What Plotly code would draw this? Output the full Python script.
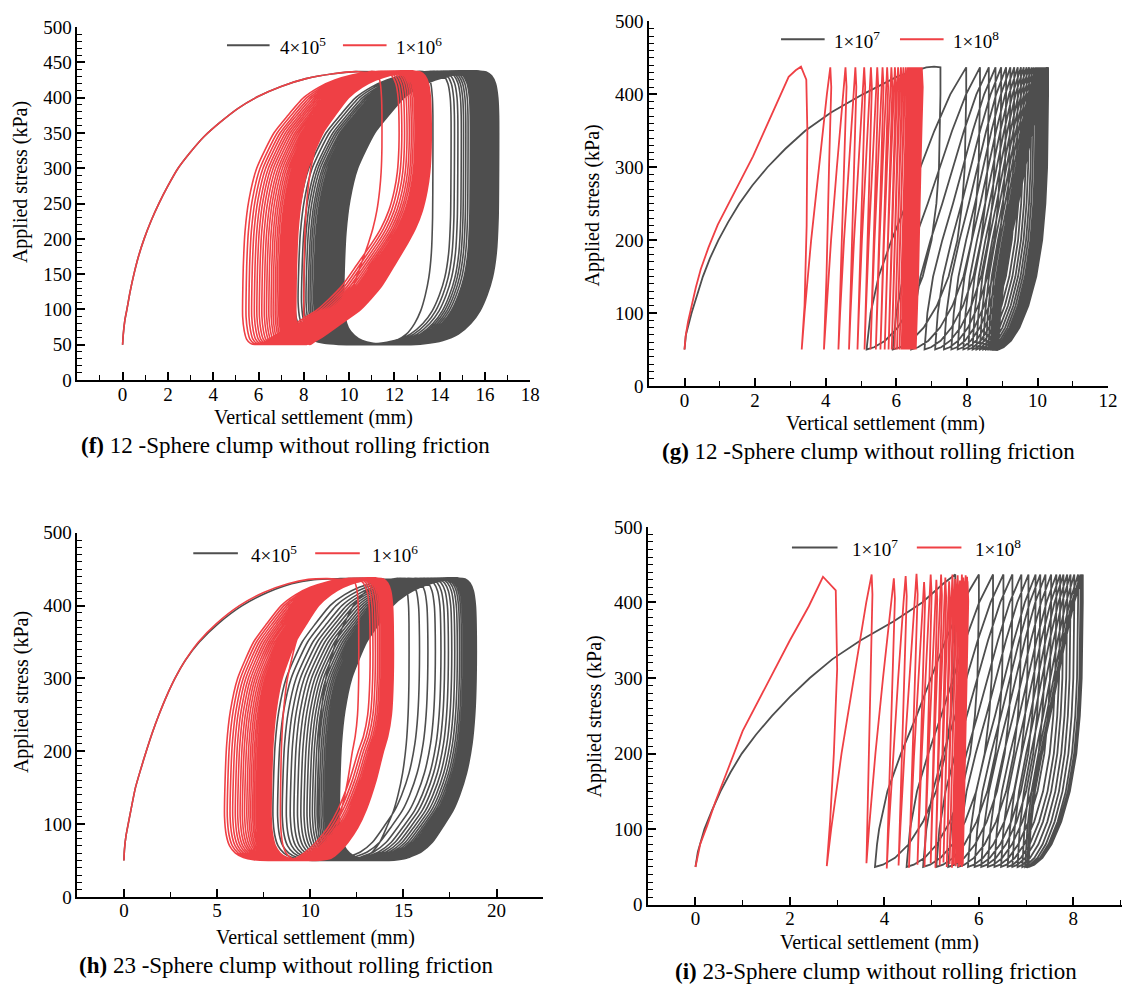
import plotly.graph_objects as go

# ---------------- figure constants ----------------
FIG_W, FIG_H = 1132, 996
GRAY = "#4E4E4E"
RED = "#EF4045"
FONT = "Liberation Serif, Times New Roman, serif"
P_MAX, P_MIN = 437, 50          # cyclic stress limits (kPa)

# ---------------- text ----------------
LEGEND_F = ["4×10<sup>5</sup>", "1×10<sup>6</sup>"]
LEGEND_G = ["1×10<sup>7</sup>", "1×10<sup>8</sup>"]
LEGEND_H = ["4×10<sup>5</sup>", "1×10<sup>6</sup>"]
LEGEND_I = ["1×10<sup>7</sup>", "1×10<sup>8</sup>"]
CAPTION_F = "<b>(f)</b> 12 -Sphere clump without rolling friction"
CAPTION_G = "<b>(g)</b> 12 -Sphere clump without rolling friction"
CAPTION_H = "<b>(h)</b> 23 -Sphere clump without rolling friction"
CAPTION_I = "<b>(i)</b> 23-Sphere clump without rolling friction"
X_TITLE = "Vertical settlement (mm)"
Y_TITLE = "Applied stress (kPa)"

F_XTICKS = [0, 2, 4, 6, 8, 10, 12, 14, 16, 18]
G_XTICKS = [0, 2, 4, 6, 8, 10, 12]
H_XTICKS = [0, 5, 10, 15, 20]
I_XTICKS = [0, 2, 4, 6, 8]
F_YTICKS = [0, 50, 100, 150, 200, 250, 300, 350, 400, 450, 500]
Y_TICKS = [0, 100, 200, 300, 400, 500]

# ---------------- hysteresis loop outlines (panels f, h) ----------------
# u = relative position across a loop (0 left edge, 1 right edge), s = stress (kPa)
# lens-shaped loop, softer contacts of (f)
LOOP_A_U = [0.8, 0.87, 0.92, 0.955, 0.98, 0.995, 1.0, 1.0, 0.99, 0.97, 0.935, 0.885,
            0.83, 0.73, 0.63, 0.48, 0.335, 0.24, 0.17, 0.12, 0.08, 0.05, 0.025, 0.01,
            0.0, 0.0, 0.004, 0.015, 0.04, 0.09, 0.2, 0.29, 0.39, 0.49, 0.59, 0.7, 0.8]
LOOP_A_S = [436, 437.5, 436.5, 431, 420, 400, 375, 330, 295, 268, 240, 215,
            195, 163, 132, 100, 80, 67, 58, 53, 50.5, 52, 58, 70,
            90, 115, 160, 210, 255, 300, 350, 375, 400, 415, 425, 432, 436]
# loop with a square right shoulder, stiffer contacts of (f)
LOOP_B_U = [0.8, 0.87, 0.92, 0.955, 0.98, 0.995, 1.0, 1.0, 0.997, 0.985, 0.96, 0.925,
            0.88, 0.82, 0.74, 0.64, 0.52, 0.40, 0.28, 0.19, 0.12, 0.07, 0.03, 0.01,
            0.0, 0.004, 0.015, 0.04, 0.09, 0.2, 0.29, 0.39, 0.49, 0.59, 0.7, 0.8]
LOOP_B_S = [436, 437.5, 436.5, 431, 420, 400, 375, 300, 230, 180, 145, 120,
            98, 80, 65, 56, 51.5, 50, 50.5, 52, 56, 63, 74, 88,
            110, 160, 210, 255, 300, 350, 375, 400, 415, 425, 432, 436]
# loops of (h), stiffer and softer contacts
LOOP_C_U = [0.8, 0.87, 0.92, 0.955, 0.98, 0.995, 1.0, 1.0, 0.99, 0.97, 0.93, 0.88,
            0.83, 0.76, 0.68, 0.6, 0.49, 0.4, 0.3, 0.2, 0.13, 0.075, 0.035, 0.012,
            0.0, 0.004, 0.015, 0.04, 0.09, 0.2, 0.29, 0.39, 0.49, 0.59, 0.7, 0.8]
LOOP_C_S = [436, 437.5, 436.5, 431, 420, 400, 375, 300, 250, 210, 170, 140,
            118, 97, 75, 62, 53, 50.5, 50, 51, 54, 60, 70, 85,
            110, 160, 210, 255, 300, 350, 375, 400, 415, 425, 432, 436]
LOOP_D_U = [0.8, 0.87, 0.92, 0.955, 0.98, 0.995, 1.0, 1.0, 0.985, 0.955, 0.92, 0.86,
            0.78, 0.71, 0.63, 0.56, 0.49, 0.4, 0.3, 0.2, 0.13, 0.075, 0.035, 0.012,
            0.0, 0.004, 0.015, 0.04, 0.09, 0.2, 0.29, 0.39, 0.49, 0.59, 0.7, 0.8]
LOOP_D_S = [436, 437.5, 436.5, 431, 420, 400, 375, 300, 250, 220, 200, 160,
            120, 95, 75, 62, 53, 50.5, 50, 51, 54, 60, 70, 85,
            110, 160, 210, 255, 300, 350, 375, 400, 415, 425, 432, 436]

# ---------------- panel (f): 12-sphere, 4e5 / 1e6 ----------------
F_INIT_X = [0, 0.03, 0.1, 0.19, 0.33, 0.5, 0.7, 0.95, 1.25, 1.6, 2.0, 2.45, 3.0, 3.6,
            4.3, 5.1, 6.0, 7.0, 8.1, 9.3, 10.3]
F_INIT_S = [50, 65, 85, 100, 125, 150, 175, 200, 225, 250, 275, 300, 323, 345,
            365, 385, 402, 416, 427, 434, 437]
F_GRAY_LEFT = [9.2, 7.6, 7.75, 7.9, 8.0, 8.1, 8.2, 8.28, 8.36, 8.44, 8.51, 8.58, 8.64, 8.7, 8.76,
               8.82, 8.87, 8.92, 8.97, 9.02, 9.06, 9.1, 9.14, 9.18, 9.22, 9.26, 9.3, 9.33, 9.36,
               9.39, 9.42, 9.45, 9.48, 9.51, 9.54, 9.57, 9.6, 9.62, 9.64, 9.66, 9.68, 9.7, 9.72,
               9.74, 9.76]
F_GRAY_RIGHT = [13.7, 14.5, 14.65, 14.8, 14.95, 15.05, 15.15, 15.25, 15.35, 15.42, 15.49, 15.56,
                15.62, 15.68, 15.74, 15.79, 15.84, 15.89, 15.93, 15.97, 16.01, 16.05, 16.09, 16.12,
                16.15, 16.18, 16.21, 16.24, 16.27, 16.3, 16.32, 16.35, 16.37, 16.39, 16.41, 16.43,
                16.45, 16.47, 16.49, 16.51, 16.53, 16.55, 16.57, 16.59, 16.6]
F_RED_LEFT = [8.0, 5.3, 5.45, 5.58, 5.7, 5.82, 5.93, 6.04, 6.15, 6.26, 6.36, 6.46, 6.56, 6.65,
              6.74, 6.82, 6.9, 6.97, 7.04, 7.1, 7.16, 7.21, 7.26, 7.3, 7.34, 7.38, 7.41, 7.44,
              7.47, 7.5, 7.52, 7.54, 7.56, 7.58, 7.6, 7.61, 7.62, 7.63, 7.64, 7.65]
F_RED_RIGHT = [11.45, 12.2, 12.32, 12.44, 12.55, 12.65, 12.74, 12.82, 12.9, 12.97, 13.03, 13.09,
               13.14, 13.19, 13.23, 13.27, 13.31, 13.34, 13.37, 13.4, 13.42, 13.44, 13.46, 13.48,
               13.5, 13.51, 13.52, 13.53, 13.54, 13.55, 13.56, 13.57, 13.58, 13.59, 13.6, 13.6,
               13.61, 13.61, 13.62, 13.62]

# ---------------- panel (h): 23-sphere, 4e5 / 1e6 ----------------
H_GRAY_INIT_X = [0, 0.03, 0.12, 0.23, 0.42, 0.62, 0.9, 1.2, 1.52, 1.88, 2.28, 2.74, 3.3,
                 4.05, 5.05, 6.35, 7.7, 9.0, 10.2, 11.6, 12.8]
H_GRAY_INIT_S = [50, 65, 85, 100, 125, 150, 175, 200, 225, 250, 275, 300, 325,
                 350, 375, 400, 418, 430, 435.5, 437, 437.5]
H_RED_INIT_X = [0, 0.03, 0.12, 0.23, 0.42, 0.62, 0.9, 1.2, 1.52, 1.88, 2.28, 2.74, 3.3,
                4.0, 4.95, 6.2, 7.5, 8.8, 9.9, 10.9]
H_RED_INIT_S = [50, 65, 85, 100, 125, 150, 175, 200, 225, 250, 275, 300, 325,
                350, 375, 400, 418, 430, 436, 437]
H_GRAY_LEFT = [10.4, 8.0, 8.25, 8.5, 8.72, 8.93, 9.13, 9.32, 9.5, 9.67, 9.83, 9.98, 10.12, 10.25,
               10.37, 10.48, 10.58, 10.68, 10.77, 10.85, 10.93, 11.0, 11.07, 11.13, 11.19, 11.24,
               11.29, 11.33, 11.37, 11.41, 11.44, 11.47, 11.5, 11.52, 11.54, 11.56]
H_GRAY_RIGHT = [15.3, 15.85, 16.3, 16.7, 17.0, 17.2, 17.4, 17.58, 17.74, 17.88, 18.0, 18.1, 18.19,
                18.27, 18.34, 18.4, 18.46, 18.51, 18.56, 18.6, 18.64, 18.67, 18.7, 18.73, 18.75,
                18.77, 18.79, 18.81, 18.83, 18.84, 18.85, 18.86, 18.87, 18.88, 18.89, 18.9]
H_RED_LEFT = [8.4, 5.4, 5.55, 5.7, 5.84, 5.98, 6.11, 6.24, 6.36, 6.48, 6.6, 6.71, 6.81, 6.91, 7.0,
              7.09, 7.17, 7.25, 7.32, 7.39, 7.45, 7.51, 7.56, 7.61, 7.65, 7.69, 7.72, 7.75, 7.78,
              7.8, 7.82, 7.84, 7.86, 7.88, 7.89, 7.9]
H_RED_RIGHT = [12.6, 13.2, 13.35, 13.48, 13.6, 13.7, 13.79, 13.87, 13.94, 14.0, 14.06, 14.11,
               14.16, 14.2, 14.24, 14.27, 14.3, 14.32, 14.34, 14.36, 14.37, 14.38, 14.39, 14.4,
               14.4, 14.41, 14.41, 14.42, 14.42, 14.43, 14.43, 14.44, 14.44, 14.45, 14.45, 14.45]

# ---------------- branch shapes for the stiff contacts (panels g, i) ----------------
# fraction of the way from a branch's start point to its end point, vs. stress
GRAY_UNLOAD_S = [437, 400, 350, 300, 250, 200, 150, 110, 80, 62, 53, 50]
GRAY_UNLOAD_F = [0, 0.0, 0.005, 0.02, 0.055, 0.12, 0.24, 0.4, 0.58, 0.75, 0.9, 1.0]
GRAY_LOAD_S = [50, 55, 65, 80, 100, 150, 200, 250, 300, 350, 400, 437]
GRAY_LOAD_F = [0, 0.003, 0.01, 0.02, 0.04, 0.12, 0.25, 0.4, 0.54, 0.68, 0.84, 1.0]
RED_UNLOAD_S = [437, 410, 300, 150, 50]
RED_UNLOAD_F = [0, -0.15, 0.2, 0.6, 1.0]
RED_LOAD_S = [50, 100, 200, 300, 400, 437]
RED_LOAD_F = [0, 0.1, 0.33, 0.6, 0.88, 1.0]

# ---------------- panel (g): 12-sphere, 1e7 / 1e8 ----------------
G_GRAY_INIT_X = [0, 0.04, 0.2, 0.36, 0.52, 0.72, 0.96, 1.24, 1.55, 1.92, 2.35, 2.85, 3.42,
                 4.15, 5.05, 6.05, 6.5, 6.85, 7.07]
G_GRAY_INIT_S = [50, 70, 100, 125, 150, 175, 200, 225, 250, 275, 300, 325, 350,
                 375, 400, 425, 432, 437, 438]
G_GRAY_PEAK = [7.25, 7.98, 8.37, 8.62, 8.81, 8.97, 9.11, 9.23, 9.34, 9.44, 9.53, 9.61, 9.69, 9.76,
               9.83, 9.89, 9.95, 10.0, 10.05, 10.09, 10.13, 10.17, 10.2, 10.23, 10.26, 10.28, 10.3]
G_GRAY_BOTTOM = [5.16, 5.9, 6.42, 6.8, 7.1, 7.35, 7.56, 7.74, 7.9, 8.04, 8.16, 8.27, 8.37, 8.46,
                 8.54, 8.61, 8.67, 8.72, 8.76, 8.79, 8.82, 8.84, 8.86, 8.87, 8.88, 8.89, 8.9]
G_RED_INIT_X = [0, 0.03, 0.1, 0.2, 0.32, 0.46, 0.68, 0.94, 1.2, 1.45, 1.7, 1.94, 2.2,
                2.45, 2.7, 2.95, 3.15, 3.3]
G_RED_INIT_S = [50, 68, 88, 110, 135, 160, 190, 221, 245, 268, 291, 315, 343,
                370, 397, 424, 433, 438]
G_RED_FIRST_UNLOAD_X = [3.45, 3.48, 3.46, 3.4, 3.32]
G_RED_FIRST_UNLOAD_S = [420, 350, 220, 110, 50]
G_RED_PEAK = [3.3, 4.13, 4.56, 4.84, 5.09, 5.28, 5.46, 5.61, 5.74, 5.86, 5.96, 6.05, 6.13, 6.2,
              6.27, 6.33, 6.38, 6.43, 6.47, 6.51, 6.55, 6.58, 6.61, 6.63, 6.65, 6.67, 6.69, 6.7,
              6.71, 6.72, 6.72, 6.72]
G_RED_BOTTOM = [3.32, 3.95, 4.36, 4.66, 4.9, 5.1, 5.27, 5.42, 5.55, 5.67, 5.78, 5.87, 5.95, 6.02,
                6.09, 6.15, 6.2, 6.25, 6.29, 6.33, 6.36, 6.39, 6.42, 6.44, 6.46, 6.48, 6.5, 6.51,
                6.52, 6.53, 6.54, 6.55]

# ---------------- panel (i): 23-sphere, 1e7 / 1e8 ----------------
I_GRAY_INIT_X = [0, 0.05, 0.19, 0.35, 0.53, 0.74, 0.98, 1.28, 1.62, 2.0, 2.42, 2.9, 3.5,
                 4.2, 4.8, 5.25]
I_GRAY_INIT_S = [50, 70, 100, 125, 150, 175, 200, 225, 250, 275, 300, 325, 350,
                 375, 400, 425]
I_GRAY_PEAK = [5.5, 6.0, 6.3, 6.52, 6.71, 6.9, 7.05, 7.2, 7.3, 7.41, 7.53, 7.64, 7.72, 7.79,
               7.87, 7.94, 8.02, 8.1, 8.15, 8.18, 8.2]
I_GRAY_BOTTOM = [3.8, 4.47, 4.82, 5.1, 5.35, 5.56, 5.77, 5.91, 6.05, 6.19, 6.33, 6.47, 6.61, 6.71,
                 6.82, 6.92, 6.98, 7.02, 7.04, 7.05, 7.06]
I_RED_INIT_X = [0, 0.1, 0.25, 0.42, 0.6, 0.8, 1.0, 1.5, 2.0, 2.4, 2.7]
I_RED_INIT_S = [50, 80, 105, 136, 165, 198, 230, 290, 350, 395, 434]
I_RED_FIRST_UNLOAD_X = [2.97, 3.0, 2.93, 2.85, 2.78]
I_RED_FIRST_UNLOAD_S = [416, 312, 200, 110, 51]
I_RED_PEAK = [2.7, 3.73, 4.2, 4.45, 4.68, 4.84, 4.98, 5.1, 5.2, 5.29, 5.37, 5.44, 5.5, 5.55,
              5.6, 5.64, 5.67, 5.7, 5.72, 5.74, 5.75, 5.76]
I_RED_PEAK_S = [434, 437, 432, 435, 438, 427, 437, 430, 437, 433, 428, 437, 431, 436, 429, 437,
                433, 428, 436, 430, 434, 428]
I_RED_BOTTOM = [2.78, 3.62, 4.05, 4.3, 4.52, 4.7, 4.85, 4.98, 5.08, 5.17, 5.25, 5.32, 5.38, 5.43,
                5.47, 5.51, 5.54, 5.57, 5.6, 5.62, 5.64, 5.66]
I_RED_BOTTOM_S = [51, 55, 48, 52, 49, 53, 50, 55, 49, 52, 56, 50, 54, 49, 53, 51, 55, 50, 52, 54,
                  50, 53]


# ---------------- path builders ----------------
def wide_loops(init_x, init_s, left_edges, right_edges, loop_u, loop_s):
    """Initial loading curve followed by one closed loop per cycle."""
    xs, ys = list(init_x), list(init_s)
    for xl, xr in zip(left_edges, right_edges):
        w = xr - xl
        xs.extend(xl + u * w for u in loop_u)
        ys.extend(loop_s)
    return xs, ys


def zigzag(init_x, init_s, peaks, bottoms, load_f, load_s, unload_f, unload_s,
           first_unload=None, peak_s=None, bottom_s=None):
    """Initial loading, then unloading peak[k] -> bottom[k], reloading bottom[k] -> peak[k+1]."""
    n = len(peaks)
    ps = peak_s if peak_s else [P_MAX] * n
    bs = bottom_s if bottom_s else [P_MIN] * n

    def rescale(s, lo, hi):
        return lo + (s - P_MIN) * (hi - lo) / (P_MAX - P_MIN)

    xs, ys = list(init_x), list(init_s)
    for k in range(n):
        p, b = peaks[k], bottoms[k]
        if k == 0 and first_unload:
            xs.extend(first_unload[0])
            ys.extend(first_unload[1])
        else:
            xs.extend(p + f * (b - p) for f in unload_f)
            ys.extend(rescale(s, bs[k], ps[k]) for s in unload_s)
        if k + 1 < n:
            q = peaks[k + 1]
            xs.extend(b + f * (q - b) for f in load_f)
            ys.extend(rescale(s, bs[k], ps[k + 1]) for s in load_s)
    return xs, ys


fig = go.Figure()


def add_path(xy, color, axis, spline, width):
    line = dict(color=color, width=width)
    if spline:
        line.update(shape="spline", smoothing=0.6)
    fig.add_trace(go.Scatter(x=xy[0], y=xy[1], mode="lines", line=line,
                             xaxis="x" + axis, yaxis="y" + axis,
                             showlegend=False, hoverinfo="skip"))


# (f)
add_path(wide_loops(F_INIT_X, F_INIT_S, F_GRAY_LEFT, F_GRAY_RIGHT, LOOP_B_U, LOOP_B_S), GRAY, "", True, 1.6)
add_path(wide_loops(F_INIT_X, F_INIT_S, F_RED_LEFT, F_RED_RIGHT, LOOP_A_U, LOOP_A_S), RED, "", True, 1.6)
# (g)
add_path(zigzag(G_GRAY_INIT_X, G_GRAY_INIT_S, G_GRAY_PEAK, G_GRAY_BOTTOM,
                GRAY_LOAD_F, GRAY_LOAD_S, GRAY_UNLOAD_F, GRAY_UNLOAD_S), GRAY, "2", False, 1.8)
add_path(zigzag(G_RED_INIT_X, G_RED_INIT_S, G_RED_PEAK, G_RED_BOTTOM,
                RED_LOAD_F, RED_LOAD_S, RED_UNLOAD_F, RED_UNLOAD_S,
                first_unload=(G_RED_FIRST_UNLOAD_X, G_RED_FIRST_UNLOAD_S)), RED, "2", False, 1.8)
# (h)
add_path(wide_loops(H_GRAY_INIT_X, H_GRAY_INIT_S, H_GRAY_LEFT, H_GRAY_RIGHT, LOOP_C_U, LOOP_C_S), GRAY, "3", True, 1.6)
add_path(wide_loops(H_RED_INIT_X, H_RED_INIT_S, H_RED_LEFT, H_RED_RIGHT, LOOP_D_U, LOOP_D_S), RED, "3", True, 1.6)
# (i)
add_path(zigzag(I_GRAY_INIT_X, I_GRAY_INIT_S, I_GRAY_PEAK, I_GRAY_BOTTOM,
                GRAY_LOAD_F, GRAY_LOAD_S, GRAY_UNLOAD_F, GRAY_UNLOAD_S), GRAY, "4", False, 1.8)
add_path(zigzag(I_RED_INIT_X, I_RED_INIT_S, I_RED_PEAK, I_RED_BOTTOM,
                RED_LOAD_F, RED_LOAD_S, RED_UNLOAD_F, RED_UNLOAD_S,
                first_unload=(I_RED_FIRST_UNLOAD_X, I_RED_FIRST_UNLOAD_S),
                peak_s=I_RED_PEAK_S, bottom_s=I_RED_BOTTOM_S), RED, "4", False, 1.8)


# ---------------- axes ----------------
def px(x):
    return x / FIG_W


def py(y):
    return 1 - y / FIG_H


TICKFONT = dict(family=FONT, size=19, color="black")


def axis_common(major, minor):
    return dict(tickmode="array", tickvals=major,
                ticks="inside", ticklen=8, tickwidth=1.5, tickcolor="black",
                minor=dict(tickmode="array", tickvals=minor, ticks="inside",
                           ticklen=5, tickwidth=1.3, tickcolor="black", showgrid=False),
                showline=True, linecolor="black", linewidth=1.6,
                showgrid=False, zeroline=False, tickfont=TICKFONT, fixedrange=True)


def x_axis(left, right, rng, major, minor, anchor):
    d = axis_common(major, minor)
    d.update(domain=[px(left), px(right)], range=rng, anchor=anchor)
    return d


def y_axis(top, bottom, major, minor, anchor):
    d = axis_common(major, minor)
    d.update(domain=[py(bottom), py(top)], range=[0, 500], anchor=anchor)
    return d


y_minor_f = [v for v in range(0, 501, 10) if v % 50]
y_minor = [v for v in range(0, 501, 10) if v % 100]

fig.update_layout(
    xaxis=x_axis(78, 535, [-2, 18], F_XTICKS, [-1 + 2 * k for k in range(10)], "y"),
    yaxis=y_axis(17.5, 378, F_YTICKS, y_minor_f, "x"),
    xaxis2=x_axis(655, 1118, [-1, 12], G_XTICKS, [-1 + 2 * k for k in range(7)], "y2"),
    yaxis2=y_axis(11.7, 384, Y_TICKS, y_minor, "x2"),
    xaxis3=x_axis(78, 548, [-2.5, 22.5], H_XTICKS, [-2.5 + 5 * k for k in range(6)], "y3"),
    yaxis3=y_axis(534, 906, Y_TICKS, y_minor, "x3"),
    xaxis4=x_axis(654, 1132, [-1, 9.03], I_XTICKS, [-1 + 2 * k for k in range(6)], "y4"),
    yaxis4=y_axis(528, 914, Y_TICKS, y_minor, "x4"),
)
# pull the x tick labels a little closer to the axis line
try:
    fig.update_xaxes(ticklabelstandoff=-4)
except Exception:
    pass

# ---------------- text and legend keys ----------------
annotations = []
shapes = []


def text(t, x, y, size, angle=0, xanchor="center", yanchor="middle"):
    annotations.append(dict(text=t, x=px(x), y=py(y), xref="paper", yref="paper",
                            showarrow=False, textangle=angle, xanchor=xanchor,
                            yanchor=yanchor, font=dict(family=FONT, size=size, color="black")))


def legend_key(x0, x1, y, color, label, tx):
    shapes.append(dict(type="line", xref="paper", yref="paper",
                       x0=px(x0), x1=px(x1), y0=py(y), y1=py(y),
                       line=dict(color=color, width=2)))
    text(label, tx, y + 1, 19, xanchor="left")


# axis titles
for xc, yc in [(316, 416), (893, 422), (318, 947), (887, 953)]:
    text(X_TITLE, xc, yc, 20)
for xc, yc in [(20, 176), (598, 200), (21, 697), (600, 722)]:
    text(Y_TITLE, xc, yc, 20, angle=-90)

# captions
text(CAPTION_F, 288, 445, 23)
text(CAPTION_G, 876, 451, 23)
text(CAPTION_H, 289, 976, 23)
text(CAPTION_I, 884, 982, 23)

# legends
legend_key(229, 272, 36, GRAY, LEGEND_F[0], 280)
legend_key(346, 390, 36, RED, LEGEND_F[1], 398)
legend_key(788, 832, 30, GRAY, LEGEND_G[0], 839)
legend_key(908, 952, 30, RED, LEGEND_G[1], 959)
legend_key(195, 240, 555, GRAY, LEGEND_H[0], 251)
legend_key(318, 363, 555, RED, LEGEND_H[1], 373)
legend_key(799, 845, 549, GRAY, LEGEND_I[0], 858)
legend_key(925, 970, 549, RED, LEGEND_I[1], 982)

fig.update_layout(
    width=FIG_W, height=FIG_H,
    margin=dict(l=0, r=0, t=0, b=0),
    paper_bgcolor="white", plot_bgcolor="white",
    showlegend=False,
    annotations=annotations, shapes=shapes,
    font=dict(family=FONT, color="black"),
)

fig.write_html("out.html", config={"displayModeBar": False})
